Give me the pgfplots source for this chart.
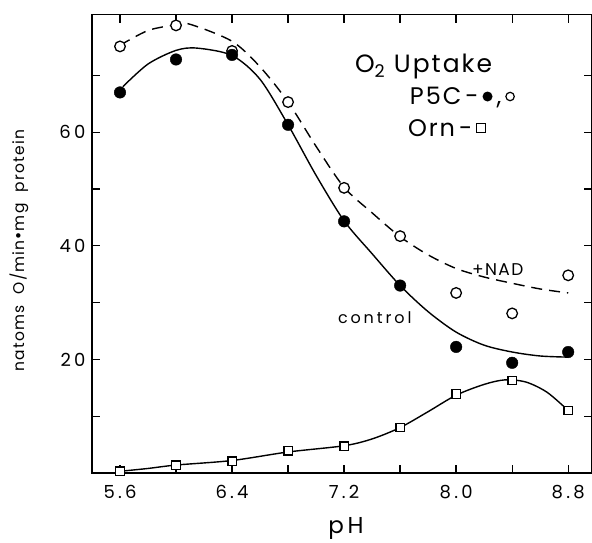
\documentclass[border=0pt]{standalone}
\usepackage{fontspec}
\setmainfont{Poppins}
\newfontfamily\symfont{DejaVu Sans}
\newfontfamily\widefont[LetterSpace=18]{Poppins}
\newfontfamily\midfont[LetterSpace=8]{Poppins}
\usepackage{pgfplots}
\pgfplotsset{compat=1.18}
\begin{document}
\begin{tikzpicture}
\path[use as bounding box] (-92pt,-69pt) rectangle (500pt,473pt);
\begin{axis}[
  at={(0pt,0pt)}, anchor=south west, scale only axis,
  width=500pt, height=458.4pt,
  xmin=5.4, xmax=8.97, ymin=0, ymax=80.7,
  axis line style={line width=1.6pt},
  tick align=inside, major tick length=8pt,
  tick style={line width=1.3pt, black},
  xtick={5.6,6.0,6.4,6.8,7.2,7.6,8.0,8.4,8.8},
  xticklabels={5.6,,6.4,,7.2,,8.0,,8.8},
  ytick={10,20,30,40,50,60,70},
  yticklabels={,20,,40,,60,},
  /pgf/number format/assume math mode=true,
  ticklabel style={font=\widefont\fontsize{18}{18}\selectfont},
  xticklabel style={yshift=-9pt},
  yticklabel style={xshift=-3pt},
  xlabel={p\,H},
  xlabel style={at={(axis description cs:0.508,-0.122)}, anchor=center, font=\widefont\fontsize{23}{23}\selectfont},
  ylabel={natoms\ \ O/min{\symfont •}mg\ \ protein},
  ylabel style={at={(axis description cs:-0.146,0.485)}, anchor=center, font=\midfont\fontsize{15.5}{15.5}\selectfont},
  clip=false,
]
% fitted curves
\addplot[black, line width=1.4pt, smooth, no marks] coordinates {
(5.62,68.0) (5.8,72.0) (6.0,74.4) (6.15,74.8) (6.4,73.5) (6.6,69.3) (6.8,61.3) (7.0,52.4) (7.2,44.4) (7.4,38.6) (7.6,33.0) (7.8,28.4) (8.0,24.8) (8.2,22.5) (8.4,21.3) (8.6,20.6) (8.8,20.4)};
\addplot[black, line width=1.4pt, smooth, no marks, dash pattern=on 11pt off 7pt] coordinates {
(5.6,75.3) (5.8,77.9) (6.0,78.9) (6.1,79.0) (6.4,76.0) (6.6,71.5) (6.8,65.3) (7.0,57.5) (7.2,50.3) (7.4,45.8) (7.6,41.6) (7.8,38.4) (8.0,36.0) (8.2,34.5) (8.4,33.4) (8.6,32.4) (8.8,31.7)};
\addplot[black, line width=1.4pt, smooth, no marks] coordinates {
(5.6,0.3) (5.8,0.8) (6.0,1.4) (6.4,2.2) (6.8,3.7) (7.2,4.8) (7.4,6.0) (7.6,8.0) (7.8,10.8) (8.0,13.7) (8.2,15.6) (8.35,16.4) (8.5,16.0) (8.65,14.2) (8.8,11.0)};
% data points
\addplot[only marks, mark=*, mark size=5.3pt, mark options={fill=white, draw=black, line width=1.3pt}] coordinates {
(5.6,75.1) (6.0,78.8) (6.4,74.3) (6.8,65.3) (7.2,50.2) (7.6,41.7) (8.0,31.7) (8.4,28.1) (8.8,34.8)};
\addplot[only marks, mark=*, mark size=5.8pt, mark options={fill=black, draw=black}] coordinates {
(5.6,67.0) (6.0,72.8) (6.4,73.6) (6.8,61.3) (7.2,44.3) (7.6,33.0) (8.0,22.2) (8.4,19.4) (8.8,21.3)};
\addplot[only marks, mark=square*, mark size=4.2pt, mark options={fill=white, draw=black, line width=1.3pt}] coordinates {
(5.6,0.3) (6.0,1.4) (6.4,2.1) (6.8,3.9) (7.2,4.7) (7.6,8.0) (8.0,13.9) (8.4,16.3) (8.8,11.0)};
% annotations
\node[anchor=west, font=\midfont\fontsize{25}{25}\selectfont, inner sep=0pt] at (axis cs:7.277,71.5) {O\textsubscript{2} Uptake};
\node[anchor=west, font=\midfont\fontsize{24}{24}\selectfont, inner sep=0pt] at (axis cs:7.669,66.1) {P5C\,-\,\tikz[baseline=-8pt]\fill (0,0) circle (5pt);\,,\,\tikz[baseline=-8pt]\draw[line width=1.2pt] (0,0) circle (4.2pt);};
\node[anchor=west, font=\midfont\fontsize{24}{24}\selectfont, inner sep=0pt] at (axis cs:7.655,60.8) {Orn\,-\,\tikz[baseline=-8pt]\draw[line width=1.2pt] (-4.3pt,-4.3pt) rectangle (4.3pt,4.3pt);};
\node[font=\widefont\fontsize{16}{16}\selectfont, inner sep=0pt] at (axis cs:7.419,27.4) {control};
\node[font=\midfont\fontsize{17}{17}\selectfont, inner sep=0pt] at (axis cs:8.297,35.8) {+NAD};
\end{axis}
\end{tikzpicture}
\end{document}
